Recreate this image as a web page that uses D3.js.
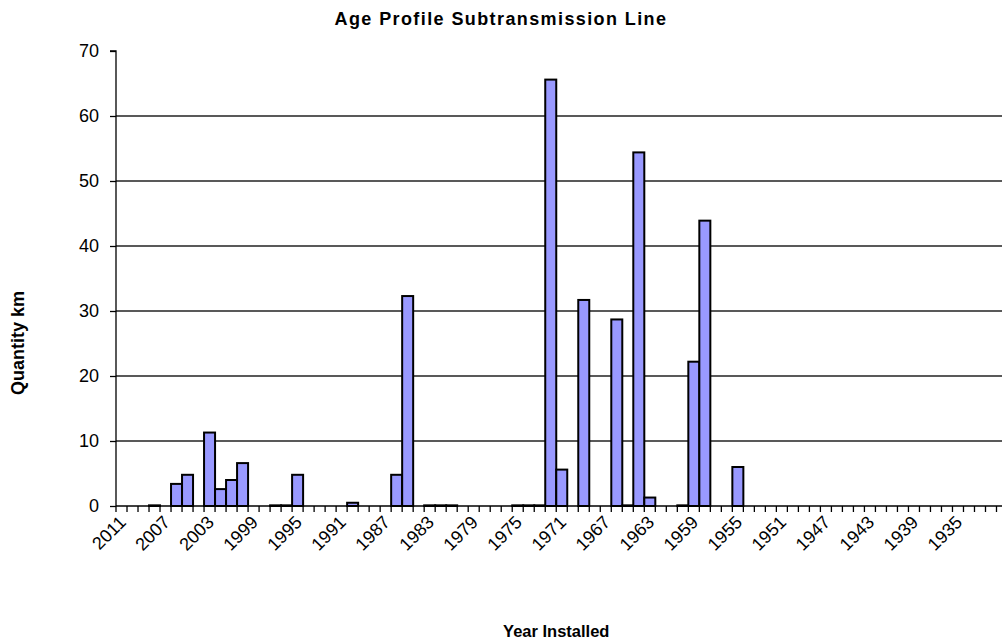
<!DOCTYPE html>
<html>
<head>
<meta charset="utf-8">
<script src="https://cdn.jsdelivr.net/npm/d3@7"></script>
<style>
  html, body { margin: 0; padding: 0; background: #fff; }
  svg { display: block; }
  text { font-family: "Liberation Sans", Arial, sans-serif; fill: #000; }
</style>
</head>
<body>
<svg id="chart" width="1002" height="639"></svg>
<script>
// ---- data ----
const years = d3.range(2011, 1931, -1); // 2011 ... 1932
const quantities = [
  0, 0, 0, 0.1, 0, 3.4, 4.8, 0, 11.3, 2.6,      // 2011-2002
  4.0, 6.6, 0, 0, 0.1, 0.1, 4.8, 0, 0, 0,       // 2001-1992
  0, 0.5, 0, 0, 0, 4.8, 32.3, 0, 0.1, 0.1,      // 1991-1982
  0.1, 0, 0, 0, 0, 0, 0.1, 0.1, 0.1, 65.6,      // 1981-1972
  5.6, 0, 31.7, 0, 0, 28.7, 0.1, 54.4, 1.3, 0,  // 1971-1962
  0, 0.1, 22.2, 43.9, 0, 0, 6.0, 0, 0, 0,       // 1961-1952
  0, 0, 0, 0, 0, 0, 0, 0, 0, 0,                 // 1951-1942
  0, 0, 0, 0, 0, 0, 0, 0, 0, 0                  // 1941-1932
];
const yTicks = [0, 10, 20, 30, 40, 50, 60, 70];
const labelYears = [2011, 2007, 2003, 1999, 1995, 1991, 1987, 1983, 1979, 1975,
                    1971, 1967, 1963, 1959, 1955, 1951, 1947, 1943, 1939, 1935];
const titleText = "Age Profile  Subtransmission Line";
const xTitle = "Year Installed";
const yTitle = "Quantity km";

// ---- layout ----
const pLeft = 116, pRight = 996.5, pTop = 51, pBottom = 506, pEdge = 1002;
const svg = d3.select("#chart");

const x = d3.scaleBand().domain(years).range([pLeft, pRight]).padding(0);
const y = d3.scaleLinear().domain([0, 70]).range([pBottom, pTop]);

// gridlines
svg.append("g").selectAll("line")
  .data(yTicks.filter(d => d > 0 && d < 70))
  .join("line")
  .attr("x1", pLeft).attr("x2", pEdge)
  .attr("y1", d => y(d)).attr("y2", d => y(d))
  .attr("stroke", "#222").attr("stroke-width", 1.3);

// bars
const data = years.map((yr, i) => ({ year: yr, value: quantities[i] }));
svg.append("g").selectAll("rect")
  .data(data.filter(d => d.value > 0))
  .join("rect")
  .attr("x", d => x(d.year))
  .attr("width", x.bandwidth())
  .attr("y", d => y(d.value))
  .attr("height", d => y(0) - y(d.value))
  .attr("fill", "#9999ff")
  .attr("stroke", "#000")
  .attr("stroke-width", 2);

// y axis
const yAxis = d3.axisLeft(y).tickValues(yTicks).tickSize(6).tickPadding(11);
const yg = svg.append("g").attr("transform", `translate(${pLeft},0)`).call(yAxis);
yg.select(".domain").attr("stroke", "#000").attr("stroke-width", 1.3).attr("d", `M-6,${pTop}H0V${pBottom}`);
yg.selectAll(".tick line").attr("stroke", "#000").attr("stroke-width", 1.3);
yg.selectAll(".tick text").style("font-family", "'Liberation Sans', Arial, sans-serif")
  .style("font-size", "18px").attr("fill", "#000");

// x axis baseline
svg.append("line").attr("x1", pLeft).attr("x2", pEdge)
  .attr("y1", pBottom).attr("y2", pBottom)
  .attr("stroke", "#000").attr("stroke-width", 1.5);

// x ticks at category boundaries
const boundaries = years.map(yr => x(yr)).concat([x(years[years.length - 1]) + x.bandwidth()]);
svg.append("g").selectAll("line")
  .data(boundaries)
  .join("line")
  .attr("x1", d => d).attr("x2", d => d)
  .attr("y1", pBottom).attr("y2", pBottom + 6)
  .attr("stroke", "#000").attr("stroke-width", 1.3);

// x labels
svg.append("g").selectAll("text")
  .data(labelYears)
  .join("text")
  .attr("transform", d => `translate(${x(d) + x.bandwidth() / 2 + 1},${pBottom + 13}) rotate(-45)`)
  .attr("text-anchor", "end")
  .attr("dy", "0.35em")
  .style("font-size", "18px")
  .text(d => d);

// titles
svg.append("text").attr("x", 501).attr("y", 25)
  .attr("text-anchor", "middle").style("font-size", "18px").style("font-weight", "bold")
  .style("letter-spacing", "1.4px")
  .text(titleText);
svg.append("text").attr("x", (pLeft + pRight) / 2).attr("y", 637)
  .attr("text-anchor", "middle").style("font-size", "16.5px").style("font-weight", "bold")
  .text(xTitle);
svg.append("text")
  .attr("transform", `translate(24,343) rotate(-90)`)
  .attr("text-anchor", "middle").style("font-size", "18px").style("font-weight", "bold")
  .text(yTitle);
</script>
</body>
</html>
